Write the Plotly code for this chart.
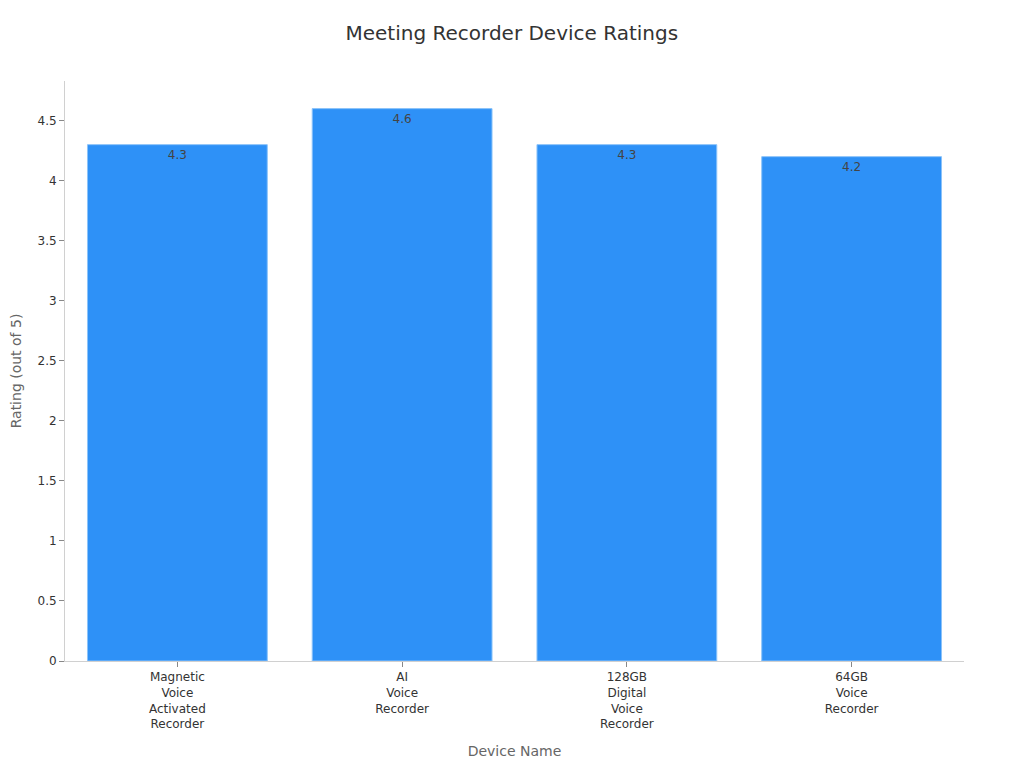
import plotly.graph_objects as go

# Device ratings
devices = [
    "Magnetic<br>Voice<br>Activated<br>Recorder",
    "AI<br>Voice<br>Recorder",
    "128GB<br>Digital<br>Voice<br>Recorder",
    "64GB<br>Voice<br>Recorder",
]
ratings = [4.3, 4.6, 4.3, 4.2]
rating_labels = ["4.3", "4.6", "4.3", "4.2"]

fig = go.Figure()

fig.add_trace(go.Bar(
    x=devices,
    y=ratings,
    text=rating_labels,
    textposition="inside",
    insidetextanchor="end",
    textfont=dict(color="#444444", size=12),
    marker=dict(color="#2E91F7", line=dict(color="#8CC3F9", width=1)),
    hoverinfo="x+y",
))

fig.update_layout(
    title=dict(text="Meeting Recorder Device Ratings", x=0.492, xanchor="center",
               y=0.9674, yanchor="middle", font=dict(size=20, color="#333333")),
    font=dict(family="DejaVu Sans", size=12, color="#333333"),
    plot_bgcolor="white",
    paper_bgcolor="white",
    width=1024,
    height=768,
    margin=dict(l=57, r=68, t=73, b=115),
    bargap=0.2,
    showlegend=False,
    xaxis=dict(
        title=dict(text="Device Name", font=dict(size=14, color="#666666"), standoff=15),
        showline=True, linecolor="#d0d0d0", linewidth=1,
        ticks="outside", tickcolor="#888888", ticklen=5,
        showgrid=False, zeroline=False,
        tickfont=dict(size=12, color="#333333"),
    ),
    yaxis=dict(
        title=dict(text="Rating (out of 5)", font=dict(size=14, color="#666666")),
        range=[0, 4.83],
        dtick=0.5,
        automargin=False,
        showline=True, linecolor="#d0d0d0", linewidth=1,
        ticks="outside", tickcolor="#888888", ticklen=5,
        showgrid=False, zeroline=False,
        tickfont=dict(size=12, color="#333333"),
    ),
)

fig.write_html("out.html")
